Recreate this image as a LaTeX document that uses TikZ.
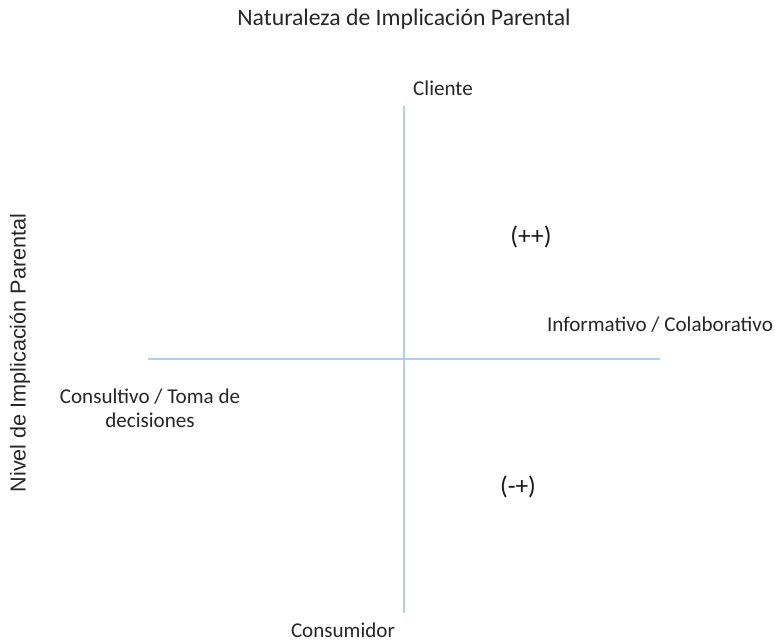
\documentclass[tikz,border=0pt]{standalone}
\usepackage{fontspec}
\setmainfont{Carlito}
\newfontfamily\arialfont{Liberation Sans}
\usepackage{xcolor}
\definecolor{axisblue}{RGB}{176,206,238}
\tikzset{
    axis-line/.style = {draw=axisblue, line width=1.2pt},
    axis-label/.style = {font=\fontsize{12}{13.6}\selectfont, text=black!85, inner sep=1pt},
    sign-label/.style = {font=\fontsize{14.5}{16}\selectfont, text=black!90},
}

\begin{document}
\begin{tikzpicture}[x=0.02cm, y=-0.02cm]
\useasboundingbox (0,0) rectangle (775,641);
% axes
\coordinate (top) at (404,106);
\coordinate (bottom) at (404,613);
\coordinate (left) at (148,359);
\coordinate (right) at (660,359);
\draw[axis-line] (top) -- (bottom);
\draw[axis-line] (left) -- (right);
% labels
\node[axis-label, font=\fontsize{13.5}{15}\selectfont] (title) at (404,19) {Naturaleza de Implicación Parental};
\node[axis-label] (client) at (443,88) {Cliente};
\node[axis-label] (consumer) at (343,630) {Consumidor};
\node[axis-label] (inform) at (660,325) {Informativo / Colaborativo};
\node[axis-label, align=center] (consult) at (150,408) {Consultivo / Toma de\\decisiones};
\node[sign-label] (pp) at (531,237) {(++)};
\node[sign-label] (mp) at (518,487) {(-+)};
\node[font=\arialfont\fontsize{12.3}{14}\selectfont, text=black!85, rotate=90] (level) at (20,353) {Nivel de Implicación Parental};
\end{tikzpicture}
\end{document}
